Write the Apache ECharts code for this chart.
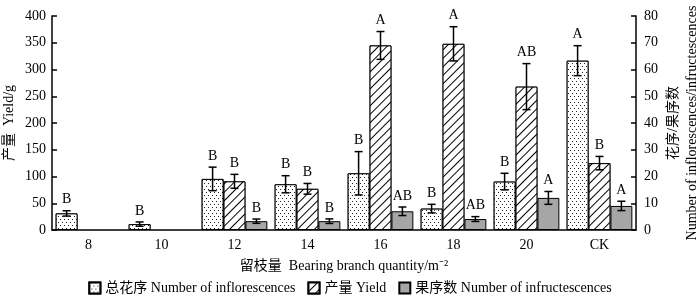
<!DOCTYPE html>
<html>
<head>
<meta charset="utf-8">
<script src="https://cdn.jsdelivr.net/npm/echarts@6/dist/echarts.min.js"></script>
<style>
html,body{margin:0;padding:0;background:#fff;}
#chart{width:700px;height:299px;}
</style>
</head>
<body>
<div id="chart"></div>
<script>
// 留枝量
var categories = ['8', '10', '12', '14', '16', '18', '20', 'CK'];

// 总花序 (right axis)
var inflorValues = [6.2, 2.2, 19.1, 17.1, 21.2, 8.0, 18.1, 63.3];
var inflorErrors = [1.0, 0.8, 4.4, 3.2, 8.1, 1.6, 3.1, 5.6];
var inflorLetters = ['B', 'B', 'B', 'B', 'B', 'B', 'B', 'A'];

// 产量 Yield (left axis, g)
var yieldValues = [null, null, 91, 77, 345, 348, 268, 125];
var yieldErrors = [null, null, 13, 10, 26, 32, 43, 12.5];
var yieldLetters = ['', '', 'B', 'B', 'A', 'A', 'AB', 'B'];

// 果序数 (right axis)
var infructValues = [null, null, 3.3, 3.3, 7.0, 4.1, 12.0, 9.0];
var infructErrors = [null, null, 0.8, 0.85, 1.6, 0.9, 2.4, 1.75];
var infructLetters = ['', '', 'B', 'B', 'AB', 'AB', 'A', 'A'];

var leftTicks = {min: 0, max: 400, interval: 50};
var rightTicks = {min: 0, max: 80, interval: 10};

var serif = '"Liberation Serif", "Times New Roman", "Noto Sans CJK SC", serif';

function errData(values, errors){
    var out = [];
    for (var i = 0; i < values.length; i++) {
        if (values[i] == null) { out.push([i, '-', '-']); continue; }
        out.push([i, values[i] - errors[i], values[i] + errors[i]]);
    }
    return out;
}

function errSeries(name, values, errors, letters, slot, yAxisIndex){
    return {
        name: name + '_err',
        type: 'custom',
        yAxisIndex: yAxisIndex,
        silent: true,
        z: 5,
        data: errData(values, errors),
        renderItem: function(params, api){
            if (isNaN(api.value(1))) return null;
            var band = api.size([1, 0])[0];
            var barW = band * 0.9 / 3;
            var cx = api.coord([api.value(0), 0])[0] + (slot - 1) * barW;
            var yLo = api.coord([api.value(0), api.value(1)])[1];
            var yHi = api.coord([api.value(0), api.value(2)])[1];
            var hw = 4;
            var st = {stroke: '#000', lineWidth: 1.5};
            return {
                type: 'group',
                children: [
                    {type: 'line', shape: {x1: cx, y1: yLo, x2: cx, y2: yHi}, style: st},
                    {type: 'line', shape: {x1: cx - hw, y1: yHi, x2: cx + hw, y2: yHi}, style: st},
                    {type: 'line', shape: {x1: cx - hw, y1: yLo, x2: cx + hw, y2: yLo}, style: st},
                    {type: 'text', style: {
                        text: letters[params.dataIndex], x: cx, y: yHi - 4,
                        align: 'center', verticalAlign: 'bottom',
                        font: '14px ' + serif, fill: '#000'
                    }}
                ]
            };
        }
    };
}

var chart = echarts.init(document.getElementById('chart'));

var option = {
    animation: false,
    backgroundColor: '#fff',
    textStyle: {fontFamily: serif, color: '#000'},
    grid: {left: 52, right: 64, top: 16, bottom: 69, containLabel: false, outerBoundsMode: 'none'},
    legend: {
        bottom: -1,
        left: 'center',
        icon: 'rect',
        itemWidth: 11,
        itemHeight: 11,
        itemGap: 12,
        textStyle: {fontFamily: serif, fontSize: 14, color: '#000'},
        data: ['总花序 Number of inflorescences', '产量 Yield', '果序数 Number of infructescences']
    },
    xAxis: {
        type: 'category',
        data: categories,
        name: '留枝量  Bearing branch quantity/m⁻²',
        nameLocation: 'middle',
        nameGap: 29,
        nameMoveOverlap: false,
        nameTextStyle: {fontFamily: serif, fontSize: 14, color: '#000'},
        axisLine: {lineStyle: {color: '#000', width: 1.5}},
        axisTick: {inside: true, length: 5, lineStyle: {color: '#000', width: 1.5}},
        axisLabel: {fontFamily: serif, fontSize: 14, color: '#000', margin: 8}
    },
    yAxis: [
        {
            type: 'value',
            min: leftTicks.min, max: leftTicks.max, interval: leftTicks.interval,
            name: '产量  Yield/g',
            nameLocation: 'middle',
            nameGap: 36,
            nameMoveOverlap: false,
            nameTextStyle: {fontFamily: serif, fontSize: 14, color: '#000'},
            splitLine: {show: false},
            axisLine: {show: true, lineStyle: {color: '#000', width: 1.5}},
            axisTick: {show: true, inside: true, length: 5, lineStyle: {color: '#000', width: 1.5}},
            axisLabel: {fontFamily: serif, fontSize: 14, color: '#000', margin: 6}
        },
        {
            type: 'value',
            position: 'right',
            min: rightTicks.min, max: rightTicks.max, interval: rightTicks.interval,
            name: '花序/果序数\nNumber of inflorescences/infructescences',
            nameLocation: 'middle',
            nameGap: 28,
            nameMoveOverlap: false,
            nameTextStyle: {fontFamily: serif, fontSize: 14, color: '#000', lineHeight: 19},
            splitLine: {show: false},
            axisLine: {show: true, lineStyle: {color: '#000', width: 1.5}},
            axisTick: {show: true, inside: true, length: 5, lineStyle: {color: '#000', width: 1.5}},
            axisLabel: {fontFamily: serif, fontSize: 14, color: '#000', margin: 8}
        }
    ],
    series: [
        {
            name: '总花序 Number of inflorescences',
            type: 'bar',
            yAxisIndex: 1,
            barGap: '0%',
            barCategoryGap: '10%',
            data: inflorValues,
            itemStyle: {
                color: '#fff',
                borderColor: '#000',
                borderWidth: 1,
                decal: {
                    symbol: 'rect',
                    symbolSize: 1,
                    color: '#222',
                    backgroundColor: '#fff',
                    dashArrayX: [[1, 3], [0, 2, 1, 1]],
                    dashArrayY: [1, 1.2],
                    rotation: 0
                }
            }
        },
        {
            name: '产量 Yield',
            type: 'bar',
            yAxisIndex: 0,
            barGap: '0%',
            barCategoryGap: '10%',
            data: yieldValues,
            itemStyle: {
                color: '#fff',
                borderColor: '#000',
                borderWidth: 1,
                decal: {
                    symbol: 'rect',
                    symbolSize: 1,
                    color: '#000',
                    backgroundColor: '#fff',
                    dashArrayX: [1, 0],
                    dashArrayY: [1, 5],
                    rotation: -Math.PI / 4
                }
            }
        },
        {
            name: '果序数 Number of infructescences',
            type: 'bar',
            yAxisIndex: 1,
            barGap: '0%',
            barCategoryGap: '10%',
            data: infructValues,
            itemStyle: {color: '#a6a6a6', borderColor: '#000', borderWidth: 1}
        },
        errSeries('inflor', inflorValues, inflorErrors, inflorLetters, 0, 1),
        errSeries('yield', yieldValues, yieldErrors, yieldLetters, 1, 0),
        errSeries('infruct', infructValues, infructErrors, infructLetters, 2, 1)
    ]
};

chart.setOption(option);
</script>
</body>
</html>
